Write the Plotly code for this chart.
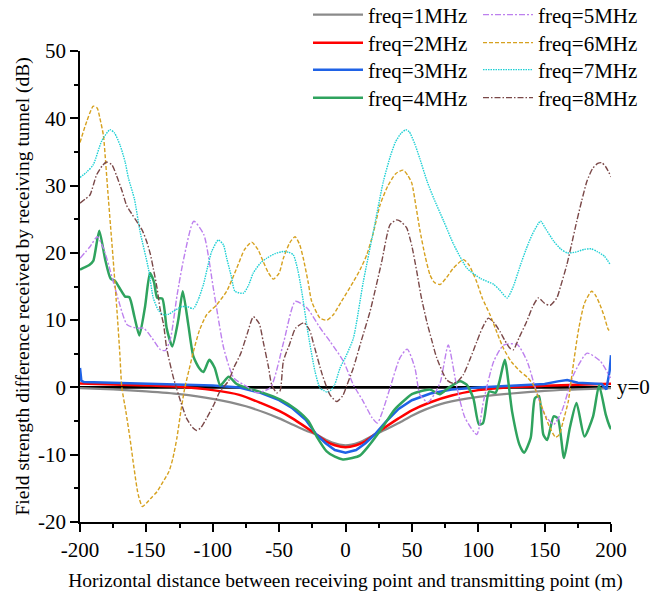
import plotly.graph_objects as go

# ---------------- data ----------------
x1 = [-200, -175, -150, -125, -100, -75, -60, -50, -40, -30, -22, -10, 0,
      10, 22, 30, 40, 50, 60, 75, 100, 125, 150, 175, 200]
y1 = [-0.1, -0.3, -0.6, -1.0, -1.7, -2.8, -3.8, -4.6, -5.5, -6.4, -7.0, -8.2, -8.6,
      -8.2, -7.0, -6.3, -5.3, -4.2, -3.3, -2.3, -1.4, -0.9, -0.5, -0.3, -0.1]

x2 = [-200, -175, -150, -125, -100, -80, -64, -50, -40, -30, -22, -15, -8, 0,
      8, 15, 22, 30, 40, 50, 64, 80, 100, 125, 150, 175, 200]
y2 = [0.6, 0.45, 0.3, 0.1, -0.4, -1.1, -2.3, -3.5, -4.6, -5.9, -7.0, -8.0, -8.6, -8.9,
      -8.6, -8.0, -7.0, -5.9, -4.6, -3.4, -2.2, -1.2, -0.4, 0.05, 0.25, 0.4, 0.55]

x3 = [-200, -199, -197, -180, -165, -150, -125, -100, -80, -64, -50, -40, -30, -22, -15, -8, 0,
      8, 15, 22, 30, 40, 50, 64, 80, 100, 125, 140, 150, 160, 167, 175, 185, 193, 196.5, 199, 200]
y3 = [2.9, 1.0, 0.8, 0.7, 0.6, 0.55, 0.45, 0.3, 0.0, -0.8, -1.9, -3.1, -4.8, -7.0, -8.3, -9.3, -9.7,
      -9.3, -8.3, -7.0, -5.2, -3.2, -1.9, -0.9, -0.3, 0.0, 0.25, 0.4, 0.5, 0.9, 1.1, 0.7, 0.6, 0.5, -0.3, 2.5, 4.8]

x4 = [-200, -197, -193, -190, -185.5, -181, -177, -173.5, -170, -166, -162.8, -159, -155.3, -151,
      -147.3, -144.3, -141.8, -138, -134.7, -130.5, -126, -122.6, -118.4, -114.6, -110, -107,
      -102.6, -98.5, -94.3, -88, -82, -74, -62, -49, -37, -28, -21.7, -14.2, -8, -2, 5, 11, 17,
      24, 30, 37, 45, 50, 56, 63.6, 71, 77.4, 86.3, 91.3, 96.3, 100.5, 103.6, 108.2, 113, 116,
      120, 125.5, 131, 134.5, 139.5, 142.7, 145.8, 149, 152, 156.8, 160, 164.6, 169, 174, 180,
      186.5, 191, 196, 199, 200]
y4 = [17.5, 17.8, 18.2, 18.8, 23.3, 19.0, 16.2, 15.8, 14.7, 13.5, 13.4, 10.5, 7.7, 12.0,
      17.0, 15.7, 13.3, 13.2, 8.8, 6.1, 10.0, 14.3, 9.3, 4.6, 2.8, 2.3,
      4.1, 2.9, 0.3, 1.6, 0.5, -0.1, -0.8, -1.8, -3.3, -5.0, -7.3, -9.5, -10.3, -10.7, -10.5, -10.1, -8.8,
      -7.0, -5.3, -3.3, -1.8, -1.0, -0.6, -0.3, -1.0, -0.1, 0.9, 0.4, -1.6, -5.5, -5.3, -0.6, -0.8, 0.9,
      4.1, -3.6, -8.5, -9.7, -7.5, -1.6, -1.3, -7.0, -7.8, -4.3, -4.6, -10.5, -6.0, -2.3, -7.3,
      -4.3, 0.3, -4.0, -5.8, -6.2]

x5 = [-200, -192.5, -187, -182, -177, -170.8, -164.5, -157, -152, -145.6, -139.4, -135.6, -131.8,
      -126.8, -121.8, -114.3, -106.7, -99.2, -91.7, -84.1, -74.1, -66.6, -56.5, -46.5, -37.8, -29,
      -19, -11.5, -1.6, 5.9, 13.4, 20, 24, 28, 33.5, 41, 46.5, 52.3, 56.1, 62, 67, 71.6, 77.4, 84,
      90, 98.9, 104, 111.7, 119.2, 129.3, 136.8, 143, 150, 156.8, 163, 171.8, 182, 192, 199.6]
y5 = [19.2, 20.9, 22.4, 20.5, 17.2, 12.8, 9.3, 8.8, 8.8, 7.3, 5.6, 5.5, 7.3,
      13.8, 19.2, 24.7, 22.7, 14.3, 5.8, 1.4, 0.1, -0.8, 0.0, 6.8, 12.8, 11.8,
      8.8, 6.8, 3.9, 0.4, -2.1, -4.5, -5.3, -3.5, -0.1, 4.4, 5.7, 2.9, -1.1, -2.2, -1.0, 0.9, 6.3, -0.1,
      -4.5, -7.0, -2.0, 3.9, 6.3, 6.4, 3.9, -0.1, -4.0, -5.5, -3.5, 1.9, 5.1, 3.9, 1.4]

x6 = [-200, -195, -190, -187, -185, -182.4, -180.5, -179, -177, -175, -172, -170, -168.5, -165.5,
      -162.4, -159.3, -156.2, -153, -150, -146.8, -142, -137.4, -133, -130, -127, -124, -121, -118,
      -114.6, -110, -104.6, -97, -89.5, -82, -76, -70.7, -66, -62, -58, -54.4, -50, -46.8, -42, -38,
      -34.5, -31.8, -28, -25.5, -19.2, -14, -9.2, -3, 5.9, 11, 16, 21, 26, 32, 38, 43.5, 47, 49.9,
      53, 56.2, 60, 63.7, 67, 71.2, 76, 81.2, 88.8, 93, 98.8, 103, 108.9, 114, 119, 125, 131.5, 137,
      141.5, 144, 146.5, 150, 154, 158.3, 161, 164, 167.8, 171, 175.3, 180, 185.4, 188, 191.7, 195,
      198, 200]
y6 = [36.4, 39.5, 41.8, 41.5, 40.0, 37.5, 33.0, 29.0, 24.0, 19.0, 11.0, 5.0, 0.0, -3.5,
      -7.5, -12.0, -15.9, -17.7, -17.2, -16.5, -15.5, -14.0, -12.5, -10.5, -7.5, -3.5, 0.0, 2.5,
      5.3, 8.5, 10.8, 12.3, 14.3, 17.7, 20.5, 21.6, 20.5, 18.7, 17.0, 16.1, 17.0, 19.2, 21.5, 22.4,
      21.2, 19.2, 15.5, 12.8, 10.3, 10.0, 10.8, 12.8, 15.7, 17.5, 19.7, 23.0, 27.1, 30.0, 31.8, 32.3, 31.5, 30.4,
      27.0, 23.2, 19.5, 16.7, 15.6, 15.3, 16.3, 17.7, 19.0, 18.2, 15.7, 13.3, 10.8, 8.2, 5.8, 3.8, 2.4, 1.5,
      0.4, -0.8, -2.1, -4.0, -6.0, -7.4, -7.0, -5.0, -2.1, 2.5, 8.3, 12.5, 14.3, 13.8, 12.3, 10.5,
      8.6, 8.3]

x7 = [-200, -195, -190, -183.7, -177.4, -174, -169.8, -166, -163.5, -159, -154.8, -148.5, -144.8,
      -141, -137.2, -133, -129.7, -123.4, -119, -114.6, -111, -107, -104, -100.8, -95.8, -92, -89.5,
      -86, -83.3, -77, -73, -69.5, -64, -59.4, -53, -46.8, -43, -39.3, -36, -33, -28, -23, -19.2,
      -16, -14, -11, -8, -4.1, 0, 5.9, 13.4, 21, 28.5, 34, 37.7, 42, 45.5, 48, 52, 56, 61.5, 66.5,
      74, 81.6, 91.6, 101.7, 111.7, 116, 121.8, 126, 131.8, 136, 140.6, 146.9, 151, 157, 162, 167,
      173, 179.6, 185, 189.6, 195, 199.6]
y7 = [31.2, 32.0, 33.1, 36.6, 38.3, 37.8, 36.0, 33.5, 31.1, 28.0, 23.2, 17.7, 13.3,
      11.5, 10.8, 10.9, 11.3, 12.0, 12.0, 11.7, 13.0, 15.3, 17.8, 20.2, 21.9, 21.2, 19.2,
      16.5, 14.3, 14.0, 15.2, 17.0, 18.5, 19.2, 19.9, 20.2, 20.1, 19.7, 17.5, 14.3, 7.8, 2.4, -0.1,
      -0.5, -0.7, -0.4, 0.5, 2.9, 4.5, 7.3, 15.7, 23.2, 30.6, 34.5, 36.5, 37.8, 38.3, 38.0, 36.3, 34.0, 30.6, 28.1,
      24.7, 21.2, 17.7, 16.2, 15.3, 14.5, 13.3, 14.8, 18.2, 20.5, 22.7, 24.7, 23.5, 21.7, 20.6, 20.0,
      20.1, 20.5, 20.6, 20.2, 19.5, 18.2]

x8 = [-200, -196, -192.5, -187.5, -183, -180, -176, -172.5, -168, -165, -161, -157.4, -153, -149.8,
      -147, -144.8, -142, -139.8, -137, -134.7, -129.7, -124, -119.7, -115, -112.2, -109, -104.7,
      -99, -94.6, -88, -84, -79, -74, -69.4, -65, -62, -58, -55.6, -51.8, -49.3, -46.8, -42, -37.6,
      -31.3, -27, -23.8, -17.5, -11.7, -6.6, -2, 1, 5.9, 12, 18.5, 23, 27.3, 33.6, 38.6, 42, 46.1,
      50, 53.7, 57, 61.2, 65, 68.7, 76.3, 81.3, 85, 88.8, 94, 98.9, 103, 107.6, 112, 116.4, 120,
      124, 126.5, 131, 136.5, 141, 145.3, 150, 154.1, 159.2, 162, 166.7, 170, 174.2, 178, 181.8,
      186, 190, 193, 196, 200]
y8 = [27.4, 28.0, 28.6, 31.6, 33.0, 33.5, 33.1, 31.5, 29.0, 27.1, 25.8, 24.7, 23.3, 21.7,
      19.8, 17.7, 14.8, 11.8, 9.3, 5.8, 1.5, -2.2, -4.6, -6.0, -6.4, -6.0, -4.6,
      -2.5, -0.6, 1.0, 3.0, 5.0, 8.0, 10.5, 9.5, 6.8, 3.0, 0.4, -0.8, -0.5, 3.9, 6.5, 8.8,
      9.6, 8.5, 6.3, 1.9, -1.1, -2.1, -1.2, 0.3, 2.9, 7.0, 11.3, 15.0, 18.7, 24.2, 24.9, 24.6, 23.7,
      21.0, 17.2, 13.5, 9.8, 7.0, 4.4, 1.1, 0.6, 1.0, 1.9, 4.3, 6.8, 8.8, 10.3, 9.6, 8.3, 7.0,
      5.8, 5.6, 7.5, 9.8, 12.0, 13.3, 12.5, 12.2, 13.3, 15.0, 18.2, 21.0, 24.7, 27.8, 30.6,
      32.5, 33.3, 33.4, 32.8, 31.3]

names = ["freq=1MHz", "freq=2MHz", "freq=3MHz", "freq=4MHz",
         "freq=5MHz", "freq=6MHz", "freq=7MHz", "freq=8MHz"]
x_ticks = [-200, -150, -100, -50, 0, 50, 100, 150, 200]
y_ticks = [-20, -10, 0, 10, 20, 30, 40, 50]
x_title = "Horizontal distance between receiving point and transmitting point (m)"
y_title = "Field strength difference received by receiving tunnel (dB)"

# ---------------- styles ----------------
FONT = "Liberation Serif"
series = [
    (x1, y1, "#8a8a8a", "solid", 2.2, "spline"),
    (x2, y2, "#ff0000", "solid", 2.5, "spline"),
    (x3, y3, "#1f62e6", "solid", 2.5, "linear"),
    (x4, y4, "#2fa35e", "solid", 2.5, "spline"),
    (x5, y5, "#bd80ee", "6px,2px,2px,2px", 1.4, "spline"),
    (x6, y6, "#d6a11f", "4px,2px", 1.4, "spline"),
    (x7, y7, "#1fd0d4", "1.5px,1px", 1.4, "spline"),
    (x8, y8, "#7a4848", "6px,2px,1.5px,2px", 1.4, "spline"),
]

fig = go.Figure()

# y = 0 reference line
fig.add_trace(go.Scatter(x=[-200, 200], y=[0, 0], mode="lines",
                         line=dict(color="black", width=2.8),
                         showlegend=False, hoverinfo="skip"))

rows_y = [15, 43, 70, 98]
for i, (xs, ys, col, dash, w, shape) in enumerate(series):
    lg = "legend" if i == 0 else f"legend{i+1}"
    fig.add_trace(go.Scatter(
        x=xs, y=ys, mode="lines", name=names[i],
        line=dict(color=col, dash=dash, width=w, shape=shape, smoothing=0.6),
        legend=lg))

layout_legends = {}
for i in range(8):
    key = "legend" if i == 0 else f"legend{i+1}"
    col = i // 4
    row = i % 4
    xpx = 308 if col == 0 else 478
    layout_legends[key] = dict(
        xref="container", yref="container",
        x=xpx / 652, y=1 - rows_y[row] / 595,
        xanchor="left", yanchor="middle",
        bgcolor="rgba(0,0,0,0)", borderwidth=0,
        font=dict(family=FONT, size=21, color="black"),
        itemwidth=50,
    )

fig.update_layout(
    width=652, height=595,
    margin=dict(l=80, r=41, t=51, b=73, autoexpand=False),
    paper_bgcolor="white", plot_bgcolor="white",
    font=dict(family=FONT, size=21, color="black"),
    **layout_legends,
    xaxis=dict(
        range=[-200, 200], tickvals=x_ticks, ticktext=[str(v) for v in x_ticks],
        ticks="outside", ticklen=8, tickwidth=1.5, tickcolor="black",
        minor=dict(dtick=25, ticks="outside", ticklen=4, tickwidth=1.5, tickcolor="black"),
        showline=True, linecolor="black", linewidth=1.5,
        showgrid=False, zeroline=False, automargin=False,
        tickfont=dict(family=FONT, size=21),
        title=dict(text=x_title, font=dict(family=FONT, size=19.5), standoff=12),
    ),
    yaxis=dict(
        range=[-20, 50], tickvals=y_ticks, ticktext=[str(v) for v in y_ticks],
        ticks="outside", ticklen=8, tickwidth=1.5, tickcolor="black",
        minor=dict(dtick=5, ticks="outside", ticklen=4, tickwidth=1.5, tickcolor="black"),
        showline=True, linecolor="black", linewidth=1.5,
        showgrid=False, zeroline=False, automargin=False,
        tickfont=dict(family=FONT, size=21),
    ),
    annotations=[
        dict(x=200, y=0, xref="x", yref="y", text="y=0", showarrow=False,
             xanchor="left", yanchor="middle", xshift=4,
             font=dict(family=FONT, size=21, color="black")),
        dict(x=22 / 652, y=0.5, xref="paper", yref="paper", text=y_title,
             showarrow=False, textangle=-90, xanchor="center", yanchor="middle",
             font=dict(family=FONT, size=19.5, color="black")),
    ],
)
# place y-title in container coordinates
fig.layout.annotations[1].update(xref="paper", x=(22 - 80) / 531)

fig.write_html("out.html")
